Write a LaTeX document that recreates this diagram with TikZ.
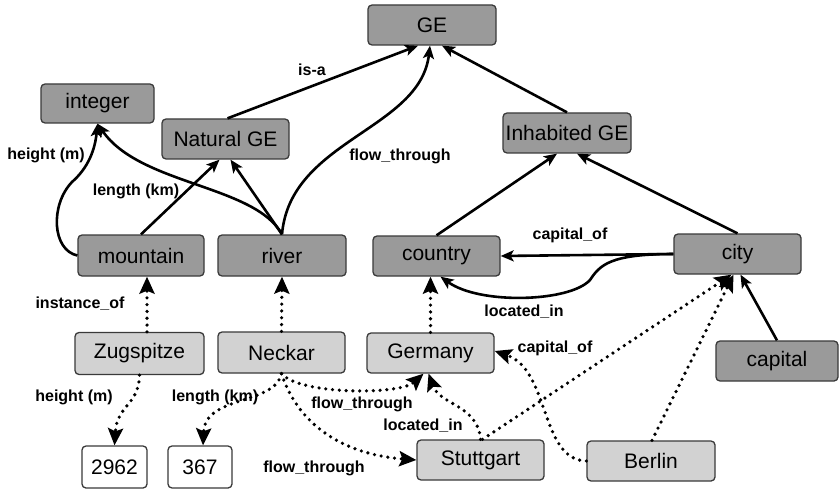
\documentclass[tikz,border=0pt]{standalone}
\usepackage{fontspec}
\setmainfont{Liberation Sans}
\usetikzlibrary{arrows.meta}
\definecolor{dkgray}{HTML}{9A9A9A}
\definecolor{ltgray}{HTML}{D2D2D2}
\definecolor{edgegray}{HTML}{3A3A3A}
\begin{document}
\begin{tikzpicture}[x=1pt,y=-1pt,
  base/.style={draw=edgegray, line width=1.3pt, rounded corners=4pt, inner sep=0pt, font=\fontsize{21}{24}\selectfont},
  cls/.style={base, fill=dkgray},
  inst/.style={base, fill=ltgray},
  val/.style={base, fill=white},
  rel/.style={line width=2.6pt, -{Stealth[length=13pt,width=11pt,inset=3pt]}},
  irel/.style={line width=3.6pt, line cap=round, dash pattern=on 0pt off 6.8pt,
    -{Stealth[length=17pt,width=15pt,inset=3pt]}},
  lbl/.style={font=\bfseries\fontsize{16}{18}\selectfont, inner sep=0pt}
]
\fill[white] (0,0) rectangle (840,489);
\useasboundingbox (0,0) rectangle (840,489);

% class nodes
\node[cls, minimum width=128pt, minimum height=40pt] (GE) at (432,25) {GE};
\node[cls, minimum width=113pt, minimum height=39pt] (integer) at (97.5,103.5) {integer};
\node[cls, minimum width=127pt, minimum height=40pt] (NaturalGE) at (225.5,139) {Natural GE};
\node[cls, minimum width=128pt, minimum height=40pt] (InhabitedGE) at (567,133) {Inhabited GE};
\node[cls, minimum width=126pt, minimum height=41pt] (mountain) at (141,255.5) {mountain};
\node[cls, minimum width=128pt, minimum height=41pt] (river) at (282,255.5) {river};
\node[cls, minimum width=127pt, minimum height=40pt] (country) at (436.5,256) {country};
\node[cls, minimum width=127pt, minimum height=40pt] (city) at (737.5,254) {city};
\node[cls, minimum width=122pt, minimum height=40pt] (capital) at (777,361) {capital};

% instance nodes
\node[inst, minimum width=129pt, minimum height=42pt] (Zugspitze) at (139.5,353.5) {Zugspitze};
\node[inst, minimum width=127pt, minimum height=41pt] (Neckar) at (281.5,352.5) {Neckar};
\node[inst, minimum width=127pt, minimum height=40pt] (Germany) at (430.5,353) {Germany};
\node[inst, minimum width=127pt, minimum height=40pt] (Stuttgart) at (480.5,460) {Stuttgart};
\node[inst, minimum width=128pt, minimum height=40pt] (Berlin) at (651,461) {Berlin};

% value nodes
\node[val, minimum width=65pt, minimum height=42pt] (n2962) at (114.5,467) {2962};
\node[val, minimum width=64pt, minimum height=42pt] (n367) at (200,467) {367};

% solid relations
\draw[rel] ([xshift=2pt]NaturalGE.north) -- ([xshift=-14pt]GE.south);
\draw[rel] (InhabitedGE.north) -- ([xshift=10pt]GE.south);
\draw[rel] (river.north) .. controls (290,140) and (420,130) .. ([xshift=-2pt]GE.south);
\draw[rel] (mountain.north) -- ([xshift=-6pt]NaturalGE.south);
\draw[rel] (river.north) -- ([xshift=5pt]NaturalGE.south);
\draw[rel] (river.north) .. controls (255,185) and (140,185) .. (integer.south);
\draw[rel] (mountain.west) .. controls (52,250) and (50,205) .. (72,182) .. controls (88,168) and (95,150) .. (integer.south);
\draw[rel] (city.west) -- (country.east);
\draw[rel] (city.west) .. controls (610,254) and (600,265) .. (590,280) .. controls (570,302) and (480,305) .. ([xshift=4pt]country.south);
\draw[rel] (country.north) -- ([xshift=-10pt]InhabitedGE.south);
\draw[rel] (city.north) -- ([xshift=10pt]InhabitedGE.south);
\draw[rel] (capital.north) -- ([xshift=3pt]city.south);

% instance relations
\draw[irel] ([xshift=7.5pt]Zugspitze.north) -- ([xshift=6pt]mountain.south);
\draw[irel] (Neckar.north) -- (river.south);
\draw[irel] (Germany.north) -- ([xshift=-6pt]country.south);
\draw[irel] (Zugspitze.south) .. controls (139,405) and (117,405) .. (n2962.north);
\draw[irel] (Neckar.south) .. controls (275,405) and (205,395) .. ([xshift=3pt]n367.north);
\draw[irel] (Neckar.south) .. controls (300,395) and (400,395) .. ([xshift=-7pt]Germany.south);
\draw[irel] (Neckar.south) .. controls (300,430) and (350,455) .. (Stuttgart.west);
\draw[irel] (Stuttgart.north) .. controls (478,405) and (440,405) .. ([xshift=-2pt]Germany.south);
\draw[irel] ([xshift=2pt]Stuttgart.north) -- ([xshift=-6pt]city.south);
\draw[irel] ([xshift=1pt]Berlin.north) -- ([xshift=-4pt]city.south);
\draw[irel] (Berlin.west) .. controls (540,460) and (550,370) .. ([yshift=2pt]Germany.east);

% labels
\node[lbl] (lisa) at (312,70) {is-a};
\node[lbl] (lflowtop) at (400,156) {flow\_through};
\node[lbl] (llentop) at (136,191) {length (km)};
\node[lbl] (lheighttop) at (46,155) {height (m)};
\node[lbl] (lcaptop) at (570,235) {capital\_of};
\node[lbl] (lloctop) at (524,312) {located\_in};
\node[lbl] (linst) at (80,304) {instance\_of};
\node[lbl] (lheightbot) at (74,397) {height (m)};
\node[lbl] (llenbot) at (215,397) {length (km)};
\node[lbl] (lflowmid) at (362,404) {flow\_through};
\node[lbl] (lflowbot) at (314,468) {flow\_through};
\node[lbl] (llocbot) at (423,426) {located\_in};
\node[lbl] (lcapbot) at (555,348) {capital\_of};
\end{tikzpicture}
\end{document}
